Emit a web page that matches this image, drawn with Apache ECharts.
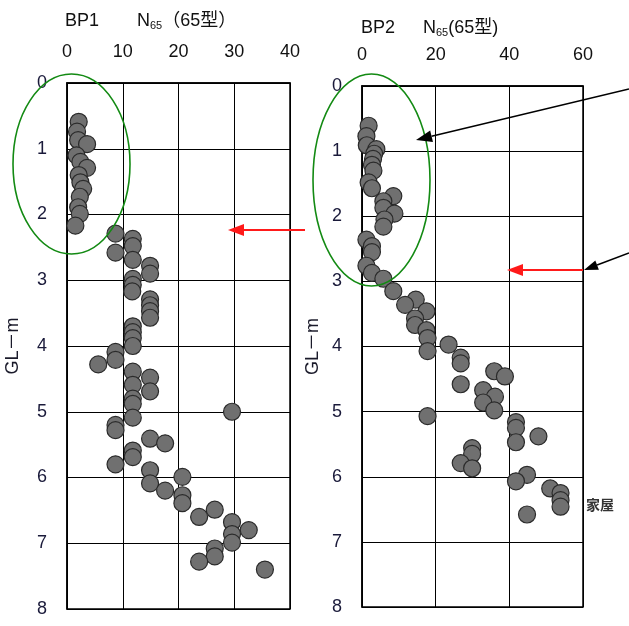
<!DOCTYPE html>
<html>
<head>
<meta charset="utf-8">
<script src="https://cdn.jsdelivr.net/npm/echarts@6/dist/echarts.min.js"></script>
<style>
    html, body { margin: 0; padding: 0; background: #fff; }
    #main { width: 629px; height: 626px; }
</style>
</head>
<body>
<div id="main"></div>
<script>
// BP1: N値 / 深度(GL-m)
let bp1N = [2.1, 1.8, 2.0, 3.6, 1.7, 2.4, 3.6, 2.1, 2.4, 2.9, 2.3, 2.0, 2.3, 1.5,
    8.7, 11.8, 11.8, 8.7, 11.8, 14.9, 14.9, 11.8, 11.8, 11.7, 14.9, 14.9, 14.9, 14.9,
    11.8, 11.8, 11.8, 11.8, 8.7, 8.7, 5.6, 11.8, 14.9, 11.8, 14.9, 11.8, 11.8, 11.8,
    29.6, 8.7, 8.7, 14.9, 17.6, 11.8, 11.8, 8.7, 14.9, 20.7, 14.9, 17.6, 20.7, 20.7,
    26.5, 23.7, 29.6, 32.6, 29.6, 29.6, 26.5, 26.5, 23.7, 35.5]
let bp1Depth = [0.59, 0.74, 0.87, 0.93, 1.10, 1.20, 1.29, 1.40, 1.51, 1.61, 1.73, 1.89, 1.99, 2.17,
    2.29, 2.37, 2.48, 2.58, 2.69, 2.78, 2.90, 2.98, 3.07, 3.17, 3.29, 3.38, 3.47, 3.57,
    3.70, 3.79, 3.88, 4.00, 4.09, 4.21, 4.28, 4.39, 4.48, 4.59, 4.69, 4.80, 4.88, 5.09,
    5.00, 5.20, 5.28, 5.41, 5.48, 5.59, 5.69, 5.80, 5.89, 5.99, 6.09, 6.20, 6.27, 6.39,
    6.49, 6.60, 6.68, 6.80, 6.86, 6.99, 7.08, 7.20, 7.28, 7.40]

// BP2
let bp2N = [1.8, 1.2, 1.3, 3.9, 3.3, 3.0, 2.7, 3.1, 1.8, 2.7, 8.5, 5.8, 5.8, 8.8, 6.1, 5.8,
    1.2, 2.7, 2.7, 1.2, 2.7, 5.8, 8.5, 14.6, 11.7, 17.5, 14.4, 14.4, 17.5, 17.8, 17.8, 23.5,
    26.8, 26.8, 26.8, 35.9, 38.8, 32.9, 36.1, 32.9, 35.9, 17.8, 41.8, 41.8, 47.9, 41.8,
    29.9, 29.9, 26.8, 29.9, 44.8, 41.8, 51.1, 53.9, 53.9, 53.9, 44.8]
let bp2Depth = [0.61, 0.77, 0.91, 0.97, 1.04, 1.12, 1.21, 1.30, 1.48, 1.57, 1.69, 1.77, 1.87, 1.96, 2.05, 2.16,
    2.36, 2.46, 2.55, 2.76, 2.87, 2.96, 3.15, 3.28, 3.36, 3.46, 3.57, 3.67, 3.75, 3.87, 4.07, 3.97,
    4.17, 4.26, 4.58, 4.38, 4.46, 4.67, 4.77, 4.86, 4.98, 5.07, 5.16, 5.25, 5.38, 5.47,
    5.56, 5.65, 5.79, 5.87, 5.97, 6.07, 6.18, 6.25, 6.36, 6.46, 6.58]

let depthTicks = [0, 1, 2, 3, 4, 5, 6, 7, 8]

function pairs(xs, ys) {
    let out = []
    for (let i = 0; i < xs.length; i++) {
        out.push([xs[i], ys[i]])
    }
    return out
}

window.onload = function() {
    let myChart = echarts.init(document.getElementById('main'))
    let font = '"Liberation Sans", Arial, "Noto Sans CJK JP", sans-serif'

    let xAxisBase = {
        type: 'value',
        position: 'top',
        min: 0,
        axisLine: { show: true, lineStyle: { color: '#000', width: 1.5 } },
        axisTick: { show: false },
        axisLabel: { color: '#111', fontSize: 18, fontFamily: font, margin: 22 },
        splitLine: { show: true, lineStyle: { color: '#000', width: 1 } }
    }
    let yAxisBase = {
        type: 'value',
        inverse: true,
        min: 0,
        max: 8,
        interval: 1,
        name: 'GL－m',
        nameLocation: 'middle',
        nameRotate: 90,
        nameTextStyle: { color: '#1a1a2a', fontSize: 18, fontFamily: font },
        axisLine: { show: true, lineStyle: { color: '#000', width: 1.5 } },
        axisTick: { show: false },
        axisLabel: {
            color: '#1a1a3a', fontSize: 18, fontFamily: font, margin: 20,
            formatter: function(v) { return depthTicks.indexOf(v) >= 0 ? String(v) : '' }
        },
        splitLine: { show: true, lineStyle: { color: '#000', width: 1 } }
    }
    let dot = {
        type: 'scatter',
        symbol: 'circle',
        symbolSize: 17,
        clip: false,
        itemStyle: { color: '#707070', borderColor: '#2b2b2b', borderWidth: 1.2, opacity: 1 },
        emphasis: { disabled: true },
        silent: true
    }

    let titleRich = {
        n: { fontSize: 18, fontWeight: 'normal', fontFamily: font, color: '#111' },
        s: { fontSize: 11, fontWeight: 'normal', fontFamily: font, color: '#111', verticalAlign: 'bottom', padding: [8, 0, 0, 0] }
    }

    let option = {
        animation: false,
        title: [{
            text: 'BP1',
            left: 60, top: 7,
            textStyle: { fontSize: 18, fontWeight: 'normal', fontFamily: font, color: '#111' }
        }, {
            text: '{n|N}{s|65}{n|（65型）}',
            left: 132, top: 7,
            textStyle: { fontWeight: 'normal', rich: titleRich }
        }, {
            text: 'BP2',
            left: 356, top: 14,
            textStyle: { fontSize: 18, fontWeight: 'normal', fontFamily: font, color: '#111' }
        }, {
            text: '{n|N}{s|65}{n|(65型)}',
            left: 418, top: 14,
            textStyle: { fontWeight: 'normal', rich: titleRich }
        }],
        grid: [
            { left: 67, top: 83, width: 223, height: 526, show: true, borderColor: '#000', borderWidth: 1.5, outerBoundsMode: 'none', containLabel: false },
            { left: 362, top: 86, width: 221, height: 521, show: true, borderColor: '#000', borderWidth: 1.5, outerBoundsMode: 'none', containLabel: false }
        ],
        xAxis: [
            Object.assign({}, xAxisBase, { gridIndex: 0, max: 40, interval: 10 }),
            Object.assign({}, xAxisBase, { gridIndex: 1, max: 60, interval: 20 })
        ],
        yAxis: [
            Object.assign({}, yAxisBase, { gridIndex: 0, nameGap: 45 }),
            Object.assign({}, yAxisBase, { gridIndex: 1, nameGap: 40 })
        ],
        series: [
            Object.assign({}, dot, { xAxisIndex: 0, yAxisIndex: 0, data: pairs(bp1N, bp1Depth) }),
            Object.assign({}, dot, { xAxisIndex: 1, yAxisIndex: 1, data: pairs(bp2N, bp2Depth) })
        ]
    }
    myChart.setOption(option)

    // annotations (ellipses, arrows, label)
    let green = '#138a13'
    let red = '#ff1a1a'
    function arrow(x1, y1, x2, y2, color, w, head) {
        let ang = Math.atan2(y2 - y1, x2 - x1)
        let len = head[0], half = head[1]
        let bx = x2 - len * Math.cos(ang), by = y2 - len * Math.sin(ang)
        let px = -Math.sin(ang) * half, py = Math.cos(ang) * half
        return [{
            type: 'line', silent: true, z: 100,
            shape: { x1: x1, y1: y1, x2: bx, y2: by },
            style: { stroke: color, lineWidth: w }
        }, {
            type: 'polygon', silent: true, z: 100,
            shape: { points: [[x2, y2], [bx + px, by + py], [bx - px, by - py]] },
            style: { fill: color }
        }]
    }

    let graphics = [{
        type: 'ellipse', silent: true, z: 100,
        shape: { cx: 71.5, cy: 164, rx: 58.5, ry: 90 },
        style: { fill: 'none', stroke: green, lineWidth: 1.6 }
    }, {
        type: 'ellipse', silent: true, z: 100,
        shape: { cx: 371.5, cy: 180, rx: 58.5, ry: 106 },
        style: { fill: 'none', stroke: green, lineWidth: 1.6 }
    }, {
        type: 'text', silent: true, z: 100,
        style: { text: '家屋', x: 586, y: 505, fontSize: 14, fontWeight: 'bold', fill: '#333',
            fontFamily: '"Noto Sans CJK JP", sans-serif', verticalAlign: 'middle' }
    }]
    graphics = graphics
        .concat(arrow(305, 230, 228, 230, red, 2, [16, 6]))
        .concat(arrow(583, 270, 507, 270, red, 2, [16, 6]))
        .concat(arrow(629, 89, 416, 140, '#000', 1.5, [16, 6]))
        .concat(arrow(629, 253, 584, 270, '#000', 1.5, [14, 5]))

    myChart.setOption({ graphic: graphics })
}
</script>
</body>
</html>
